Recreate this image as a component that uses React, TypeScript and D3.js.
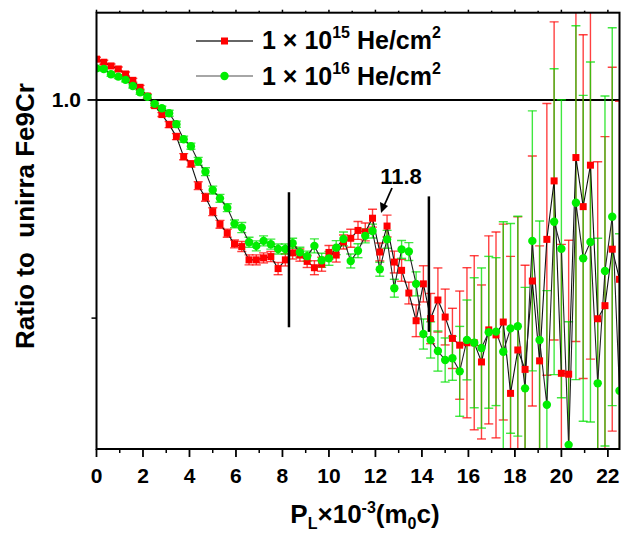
import React from 'react';
import * as d3 from 'd3';

// momentum P_L (x10^-3 m0c)
const momentum = [
  0, 0.3125, 0.625, 0.9375, 1.25, 1.5625, 1.875, 2.1875, 2.5, 2.8125,
  3.125, 3.4375, 3.75, 4.0625, 4.375, 4.6875, 5, 5.3125, 5.625, 5.9375,
  6.25, 6.5625, 6.875, 7.1875, 7.5, 7.8125, 8.125, 8.4375, 8.75, 9.0625,
  9.375, 9.6875, 10, 10.3125, 10.625, 10.9375, 11.25, 11.5625, 11.875, 12.1875,
  12.5, 12.8125, 13.125, 13.4375, 13.75, 14.0625, 14.375, 14.6875, 15, 15.3125,
  15.625, 15.9375, 16.25, 16.5625, 16.875, 17.1875, 17.5, 17.8125, 18.125, 18.4375,
  18.75, 19.0625, 19.375, 19.6875, 20, 20.3125, 20.625, 20.9375, 21.25, 21.5625,
  21.875, 22.1875, 22.5,
];

// 1e15 He/cm2
const ratio15 = [
  1.0187, 1.0173, 1.0156, 1.0142, 1.0119, 1.009, 1.0058, 1.0018, 0.9974, 0.9933,
  0.9887, 0.9832, 0.974, 0.9707, 0.9607, 0.9554, 0.9488, 0.943, 0.9389, 0.934,
  0.9328, 0.9267, 0.9267, 0.9276, 0.9282, 0.9227, 0.9267, 0.9299, 0.9289, 0.926,
  0.9231, 0.9247, 0.9301, 0.9289, 0.9349, 0.9366, 0.9402, 0.9395, 0.9458, 0.9303,
  0.9422, 0.9257, 0.9219, 0.9115, 0.8988, 0.9157, 0.8998, 0.9083, 0.9005, 0.8907,
  0.8876, 0.8887, 0.8887, 0.8799, 0.8946, 0.8923, 0.8982, 0.8655, 0.8854, 0.8765,
  0.917, 0.8804, 0.9361, 0.9629, 0.8747, 0.8743, 0.9736, 0.9511, 0.9701, 0.8997,
  0.9057, 0.9316, 0.9178,
];
const err15 = [
  0.0009, 0.0009, 0.0009, 0.0009, 0.0009, 0.0009, 0.0009, 0.0009, 0.0009, 0.0009,
  0.0014, 0.0014, 0.0014, 0.0014, 0.0018, 0.0018, 0.0018, 0.0018, 0.0018, 0.0018,
  0.0023, 0.0023, 0.0023, 0.0023, 0.0023, 0.0028, 0.0028, 0.0028, 0.0028, 0.0028,
  0.0032, 0.0032, 0.0032, 0.0032, 0.0032, 0.0041, 0.0041, 0.0041, 0.0041, 0.0041,
  0.005, 0.005, 0.005, 0.005, 0.0073, 0.0083, 0.0115, 0.0147, 0.0128, 0.0138,
  0.0248, 0.0344, 0.0399, 0.0353, 0.0431, 0.0472, 0.0449, 0.0628, 0.061, 0.0477,
  0.0573, 0.0527, 0.0623, 0.0729, 0.0591, 0.0614, 0.0843, 0.0788, 0.0889, 0.072,
  0.0775, 0.0834, 0.0816,
];

// 1e16 He/cm2
const ratio16 = [
  1.0145, 1.0142, 1.0118, 1.0107, 1.0092, 1.0064, 1.0035, 1.0015, 0.9982, 0.9962,
  0.9939, 0.9889, 0.982, 0.9788, 0.9719, 0.9671, 0.9587, 0.9549, 0.9506, 0.9432,
  0.9415, 0.9348, 0.9331, 0.9354, 0.9339, 0.9317, 0.9317, 0.9343, 0.9302, 0.9284,
  0.9331, 0.9265, 0.9274, 0.9323, 0.9363, 0.9262, 0.9309, 0.9377, 0.9399, 0.9224,
  0.9361, 0.9137, 0.9315, 0.9305, 0.9157, 0.8927, 0.89, 0.8849, 0.8808, 0.8816,
  0.8756, 0.89, 0.8887, 0.8863, 0.8935, 0.8938, 0.8846, 0.8953, 0.8963, 0.8678,
  0.9354, 0.89, 0.8603, 0.9442, 0.9318, 0.8419, 0.9529, 0.9274, 0.9349, 0.8701,
  0.9216, 0.9465, 0.8667,
];
const err16 = [
  0.0009, 0.0009, 0.0009, 0.0009, 0.0009, 0.0009, 0.0009, 0.0009, 0.0009, 0.0009,
  0.0014, 0.0014, 0.0014, 0.0014, 0.0018, 0.0018, 0.0018, 0.0018, 0.0018, 0.0018,
  0.0023, 0.0023, 0.0023, 0.0023, 0.0023, 0.0023, 0.0023, 0.0023, 0.0023, 0.0023,
  0.0032, 0.0032, 0.0032, 0.0032, 0.0032, 0.0032, 0.0032, 0.0032, 0.0032, 0.0032,
  0.0041, 0.0041, 0.0041, 0.0041, 0.0055, 0.0069, 0.0083, 0.0092, 0.0101, 0.0101,
  0.0206, 0.0183, 0.0298, 0.0367, 0.0348, 0.0339, 0.0596, 0.0481, 0.0504, 0.0463,
  0.0596, 0.0545, 0.0523, 0.0701, 0.0683, 0.0564, 0.0811, 0.0747, 0.0825, 0.0665,
  0.0802, 0.0866, 0.072,
];

const xTicks = [0, 2, 4, 6, 8, 10, 12, 14, 16, 18, 20, 22];
const xMinor = [1, 3, 5, 7, 9, 11, 13, 15, 17, 19, 21];
const yTicks = [1.0];
const yMinor = [0.9];

// vertical marker lines and annotation
const markerX = [8.28, 14.3];
const markerY = [[0.8958, 0.9577], [0.8937, 0.9558]];

const W = 621;
const H = 533;
const FONT = '"Liberation Sans", Arial, sans-serif';

export default function App() {
  const x = d3.scaleLinear().domain([0, 22.5]).range([96.5, 619.5]);
  const y = d3.scaleLinear().domain([0.84, 1.04]).range([449, 12.7]);
  const [x0, x1] = x.range();
  const [yb, yt] = y.range();

  const line = d3.line<number>()
    .x((_, i) => x(momentum[i]))
    .y(d => y(d));

  const errBars = (vals: number[], errs: number[], color: string) =>
    vals.map((v, i) => {
      const cx = x(momentum[i]);
      const top = y(v + errs[i]);
      const bot = y(v - errs[i]);
      return (
        <g key={i} stroke={color} strokeWidth={1.4} strokeOpacity={0.75}>
          <line x1={cx} x2={cx} y1={top} y2={bot} />
          <line x1={cx - 4.5} x2={cx + 4.5} y1={top} y2={top} />
          <line x1={cx - 4.5} x2={cx + 4.5} y1={bot} y2={bot} />
        </g>
      );
    });

  return (
    <svg width={W} height={H} style={{ position: 'absolute', left: 0, top: 0, background: '#fff' }}
      fontFamily={FONT} fontWeight="bold">
      <defs>
        <clipPath id="plot">
          <rect x={x0} y={yt} width={x1 - x0} height={yb - yt} />
        </clipPath>
      </defs>

      {/* reference line at 1.0 */}
      <line x1={x0} x2={x1} y1={y(1)} y2={y(1)} stroke="#000" strokeWidth={2} />

      <g clipPath="url(#plot)">
        {errBars(ratio15, err15, '#ff0000')}
        {errBars(ratio16, err16, '#00e000')}
        <path d={line(ratio15) || ''} fill="none" stroke="#111" strokeWidth={1.1} />
        <path d={line(ratio16) || ''} fill="none" stroke="#222" strokeWidth={1.1} />
        {ratio15.map((v, i) => (
          <rect key={i} x={x(momentum[i]) - 3.5} y={y(v) - 3.5} width={7} height={7} fill="#ff0000" />
        ))}
        {ratio16.map((v, i) => (
          <circle key={i} cx={x(momentum[i])} cy={y(v)} r={4.2} fill="#00ee00" />
        ))}
      </g>

      {/* marker lines */}
      {markerX.map((m, i) => (
        <line key={i} x1={x(m)} x2={x(m)} y1={y(markerY[i][0])} y2={y(markerY[i][1])} stroke="#000" strokeWidth={2.5} />
      ))}

      {/* annotation 11.8 */}
      <text x={401} y={184} fontSize={22} textAnchor="middle">11.8</text>
      <line x1={392} y1={188} x2={384} y2={206} stroke="#000" strokeWidth={1.8} />
      <path d="M381,213 L380,202 L388,206 Z" fill="#000" />

      {/* frame */}
      <rect x={x0} y={yt} width={x1 - x0} height={yb - yt} fill="none" stroke="#000" strokeWidth={2} />

      {/* x axis ticks */}
      {xTicks.map(t => (
        <g key={t}>
          <line x1={x(t)} x2={x(t)} y1={yb} y2={yb + 8} stroke="#000" strokeWidth={1.8} />
          <line x1={x(t)} x2={x(t)} y1={yt} y2={yt - 3} stroke="#000" strokeWidth={1.5} />
          <text x={x(t)} y={483} fontSize={21} textAnchor="middle">{t}</text>
        </g>
      ))}
      {xMinor.map(t => (
        <g key={t}>
          <line x1={x(t)} x2={x(t)} y1={yb} y2={yb + 4} stroke="#000" strokeWidth={1.5} />
          <line x1={x(t)} x2={x(t)} y1={yt} y2={yt - 2} stroke="#000" strokeWidth={1.5} />
        </g>
      ))}

      {/* y axis ticks */}
      {yTicks.map(t => (
        <g key={t}>
          <line x1={x0} x2={x0 - 9} y1={y(t)} y2={y(t)} stroke="#000" strokeWidth={1.8} />
          <text x={81} y={y(t) + 7} fontSize={21} textAnchor="end">{d3.format('.1f')(t)}</text>
        </g>
      ))}
      {yMinor.map(t => (
        <line key={t} x1={x0} x2={x0 - 5} y1={y(t)} y2={y(t)} stroke="#000" strokeWidth={1.5} />
      ))}

      {/* axis titles */}
      <text x={365} y={523} fontSize={26} textAnchor="middle">
        P<tspan fontSize={16} dy={6}>L</tspan>
        <tspan dy={-6}>×10</tspan>
        <tspan fontSize={16} dy={-10}>-3</tspan>
        <tspan dy={10}>(m</tspan>
        <tspan fontSize={16} dy={6}>0</tspan>
        <tspan dy={-6}>c)</tspan>
      </text>
      <text transform="translate(34,216) rotate(-90)" fontSize={26} textAnchor="middle">
        Ratio to {'\u00a0'}unirra Fe9Cr
      </text>

      {/* legend */}
      <line x1={196} x2={253} y1={41} y2={41} stroke="#333" strokeWidth={1.4} />
      <rect x={224.5 - 3.5} y={41 - 3.5} width={7} height={7} fill="#ff0000" />
      <text x={262} y={49} fontSize={25}>
        1 × 10<tspan fontSize={16} dy={-11}>15</tspan>
        <tspan dy={11}> He/cm</tspan>
        <tspan fontSize={16} dy={-11}>2</tspan>
      </text>
      <line x1={196} x2={253} y1={76} y2={76} stroke="#888" strokeWidth={1.4} />
      <circle cx={224.5} cy={76} r={4.2} fill="#00ee00" />
      <text x={262} y={85} fontSize={25}>
        1 × 10<tspan fontSize={16} dy={-11}>16</tspan>
        <tspan dy={11}> He/cm</tspan>
        <tspan fontSize={16} dy={-11}>2</tspan>
      </text>
    </svg>
  );
}
